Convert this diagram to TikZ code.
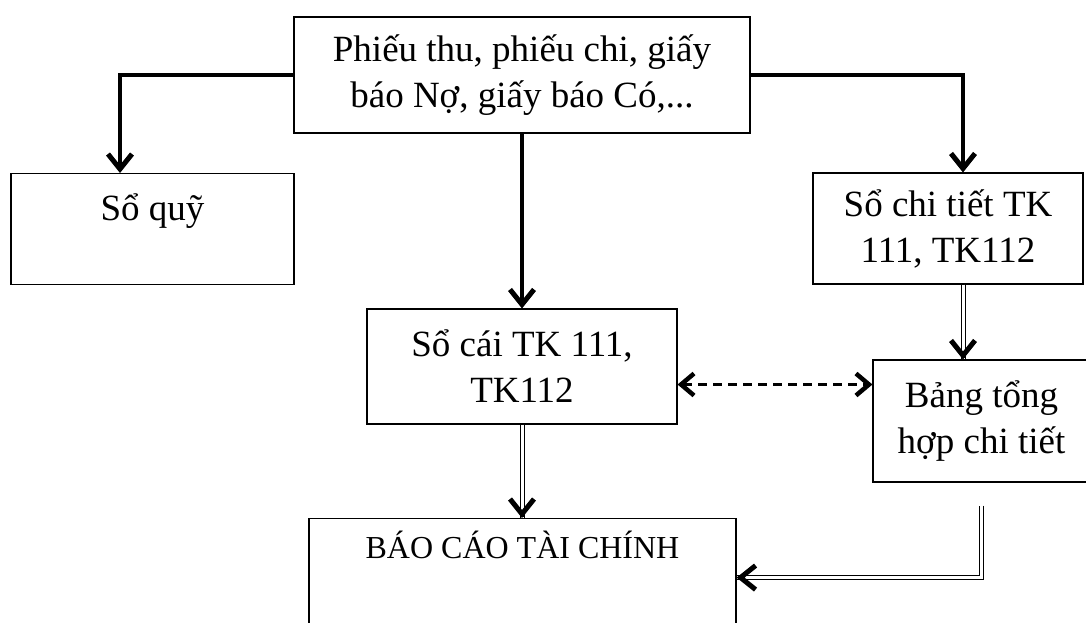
\documentclass[tikz,border=0pt]{standalone}
\usepackage{fontspec}
\setmainfont{Liberation Serif}
\usetikzlibrary{arrows.meta}

\begin{document}
\begin{tikzpicture}[x = 1pt, y = -1pt, align = center,
	main/.style = {draw, rectangle, line width = 1.1pt, inner sep = 0pt, font = \fontsize{37}{46}\selectfont},
	arr/.style = {line width = 3.5pt, -{Straight Barb[length = 15pt, width = 24pt, line width = 5pt]}},
	tip/.style = {line width = 3.5pt, -{Straight Barb[length = 15pt, width = 24pt, line width = 5pt]}},
	dbl/.style = {double, line width = 1pt, double distance = 3pt},
	dasharr/.style = {line width = 3.5pt, dash pattern = on 9pt off 6pt, {Straight Barb[length = 13pt, width = 22pt, line width = 4.5pt]}-{Straight Barb[length = 13pt, width = 22pt, line width = 4.5pt]}}]
	\useasboundingbox (0,0) rectangle (1086,622);
	\node[main, minimum width = 456pt, minimum height = 116pt] (1) at (522,75) {Phiếu thu, phiếu chi, giấy\\báo Nợ, giấy báo Có,...};
	\node[main, anchor = north, minimum width = 283pt, text height = 47pt, text depth = 64pt] (2) at (152.5,173) {Sổ quỹ};
	\node[main, minimum width = 270pt, minimum height = 111pt] (3) at (948,228.5) {Sổ chi tiết TK\\111, TK112};
	\node[main, minimum width = 310pt, minimum height = 115pt] (4) at (522,366.5) {Sổ cái TK 111,\\TK112};
	\node[main, minimum width = 217pt, minimum height = 122pt] (5) at (981.5,421) {Bảng tổng\\hợp chi tiết};
	\node[main, anchor = north, minimum width = 427pt, text height = 40pt, text depth = 132pt, font = \fontsize{32}{40}\selectfont] (6) at (522.5,518) {BÁO CÁO TÀI CHÍNH};
	\draw[arr] (1.west) -| ([xshift = -32.5pt]2.north);
	\draw[arr] (1.south) -- (4.north);
	\draw[arr] (1.east) -| ([xshift = 15pt]3.north);
	\draw[dasharr] ([yshift = -18pt]4.east) -- ([yshift = -18pt]4.east -| 5.west);
	\draw[dbl] ([xshift = 15pt]3.south) -- ([xshift = 15pt]3.south |- 5.north);
	\draw[tip] ([xshift = 15pt, yshift = 1pt]3.south |- 5.north) -- ([xshift = 15pt]3.south |- 5.north);
	\draw[dbl] (4.south) -- (4.south |- 6.north);
	\draw[tip] ([yshift = 1pt]4.south |- 6.north) -- (4.south |- 6.north);
	\draw[dbl] ([yshift = -23pt]5.south) |- ([yshift = 27pt]6.east);
	\draw[tip] ([xshift = 1pt, yshift = 27pt]6.east) -- ([yshift = 27pt]6.east);
\end{tikzpicture}
\end{document}
